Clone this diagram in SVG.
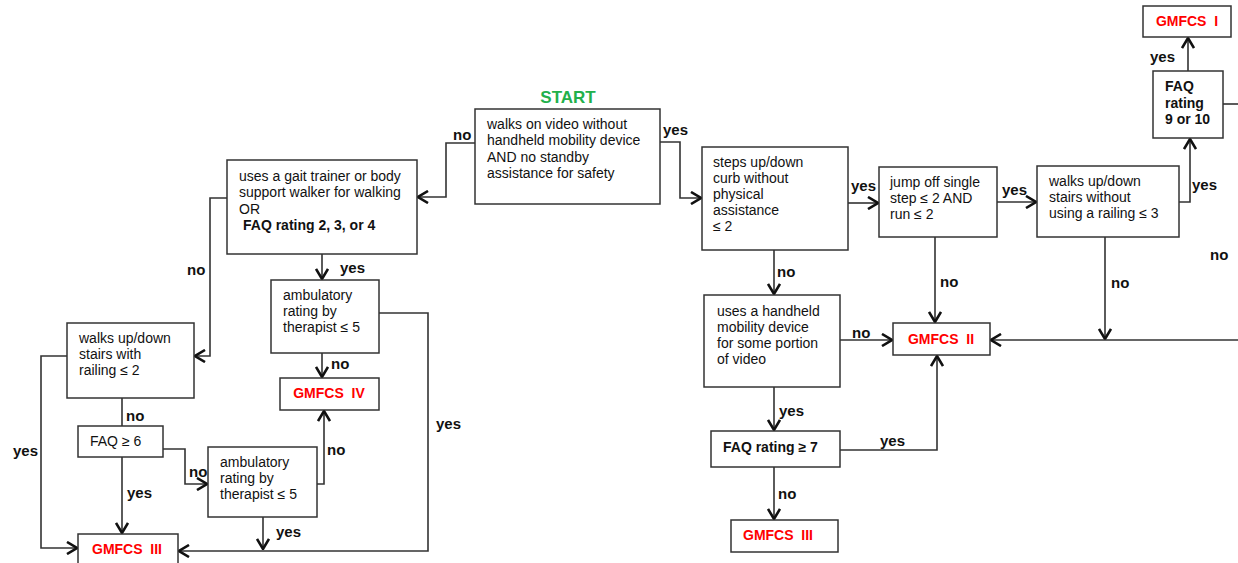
<svg xmlns="http://www.w3.org/2000/svg" width="1238" height="563" viewBox="0 0 1238 563">
<defs>
<style>
.box{fill:#fff;stroke:#333;stroke-width:1.5}
.t{font-family:"Liberation Sans",Arial,sans-serif;font-size:14px;fill:#111}
.b{font-weight:bold}
.g{font-family:"Liberation Sans",Arial,sans-serif;font-size:14px;font-weight:bold;fill:#f00;text-anchor:middle;white-space:pre}
.lbl{font-family:"Liberation Sans",Arial,sans-serif;font-size:15px;font-weight:bold;fill:#111}
.c{fill:none;stroke:#333;stroke-width:1.6}
</style>
<marker id="ah" viewBox="0 0 12 14" refX="11" refY="7" markerWidth="12" markerHeight="14" markerUnits="userSpaceOnUse" orient="auto">
<path d="M1,1 L11,7 L1,13" fill="none" stroke="#111" stroke-width="2.6"/>
</marker>
</defs>
<rect width="1238" height="563" fill="#fff"/>

<g id="connectors">
<polyline class="c" points="475,143 446,143 446,197 418,197" marker-end="url(#ah)"/>
<polyline class="c" points="660,142 680,142 680,198 701,198" marker-end="url(#ah)"/>
<polyline class="c" points="848,203 878,203" marker-end="url(#ah)"/>
<polyline class="c" points="997,202 1036,202" marker-end="url(#ah)"/>
<polyline class="c" points="1179,202 1190,202 1190,139" marker-end="url(#ah)"/>
<polyline class="c" points="1188,71 1188,38" marker-end="url(#ah)"/>
<polyline class="c" points="1223,104 1238,104"/>
<polyline class="c" points="1105,237 1105,339" marker-end="url(#ah)"/>
<polyline class="c" points="1238,340 991,340" marker-end="url(#ah)"/>
<polyline class="c" points="935,237 935,322" marker-end="url(#ah)"/>
<polyline class="c" points="774,250 774,294" marker-end="url(#ah)"/>
<polyline class="c" points="840,340 892,340" marker-end="url(#ah)"/>
<polyline class="c" points="774,387 774,430" marker-end="url(#ah)"/>
<polyline class="c" points="840,450 937,450 937,356" marker-end="url(#ah)"/>
<polyline class="c" points="774,467 774,519" marker-end="url(#ah)"/>
<polyline class="c" points="227,198 210,198 210,356 195,356" marker-end="url(#ah)"/>
<polyline class="c" points="322,254 322,279" marker-end="url(#ah)"/>
<polyline class="c" points="322,353 322,377" marker-end="url(#ah)"/>
<polyline class="c" points="379,313 428,313 428,551 179,551" marker-end="url(#ah)"/>
<polyline class="c" points="67,356 41,356 41,548 77,548" marker-end="url(#ah)"/>
<polyline class="c" points="122,398 122,426"/>
<polyline class="c" points="122,457 122,533" marker-end="url(#ah)"/>
<polyline class="c" points="163,449 185,449 185,484 207,484" marker-end="url(#ah)"/>
<polyline class="c" points="317,484 324,484 324,411" marker-end="url(#ah)"/>
<polyline class="c" points="263,517 263,549" marker-end="url(#ah)"/>
</g>

<g id="start"><text x="568" y="103" font-family="Liberation Sans, Arial, sans-serif" font-size="17" font-weight="bold" fill="#22b04b" text-anchor="middle">START</text></g>

<g id="nodeA"><rect class="box" x="475" y="109" width="185" height="95"/>
<text class="t" x="487" y="129">walks on video without</text>
<text class="t" x="487" y="145">handheld mobility device</text>
<text class="t" x="487" y="162">AND no standby</text>
<text class="t" x="487" y="178">assistance for safety</text></g>

<g id="nodeB"><rect class="box" x="227" y="160" width="190" height="94"/>
<text class="t" x="239" y="181">uses a gait trainer or body</text>
<text class="t" x="239" y="197">support walker for walking</text>
<text class="t" x="239" y="214">OR</text>
<text class="t b" x="243" y="230">FAQ rating 2, 3, or 4</text></g>

<g id="nodeC"><rect class="box" x="702" y="147" width="146" height="103"/>
<text class="t" x="713" y="167">steps up/down</text>
<text class="t" x="713" y="183">curb without</text>
<text class="t" x="713" y="199">physical</text>
<text class="t" x="713" y="215">assistance</text>
<text class="t" x="713" y="231">≤ 2</text></g>

<g id="nodeD"><rect class="box" x="879" y="167" width="118" height="70"/>
<text class="t" x="890" y="187">jump off single</text>
<text class="t" x="890" y="203">step ≤ 2 AND</text>
<text class="t" x="890" y="219">run ≤ 2</text></g>

<g id="nodeE"><rect class="box" x="1037" y="166" width="142" height="71"/>
<text class="t" x="1049" y="186">walks up/down</text>
<text class="t" x="1049" y="202">stairs without</text>
<text class="t" x="1049" y="218">using a railing ≤ 3</text></g>

<g id="nodeF"><rect class="box" x="1153" y="71" width="70" height="67"/>
<text class="t b" x="1165" y="91">FAQ</text>
<text class="t b" x="1165" y="108">rating</text>
<text class="t b" x="1165" y="124">9 or 10</text></g>

<g id="gmfcs1"><rect class="box" x="1143" y="6" width="88" height="31"/>
<text class="g" x="1187" y="26">GMFCS  I</text></g>

<g id="gmfcs2"><rect class="box" x="893" y="323" width="97" height="32"/>
<text class="g" x="941" y="344">GMFCS  II</text></g>

<g id="nodeG"><rect class="box" x="704" y="295" width="136" height="92"/>
<text class="t" x="717" y="316">uses a handheld</text>
<text class="t" x="717" y="332">mobility device</text>
<text class="t" x="717" y="348">for some portion</text>
<text class="t" x="717" y="364">of video</text></g>

<g id="nodeH"><rect class="box" x="711" y="431" width="129" height="36"/>
<text class="t b" x="723" y="452">FAQ rating ≥ 7</text></g>

<g id="gmfcs3r"><rect class="box" x="731" y="520" width="107" height="32"/>
<text class="g" x="778" y="540">GMFCS  III</text></g>

<g id="nodeL"><rect class="box" x="271" y="280" width="108" height="73"/>
<text class="t" x="283" y="300">ambulatory</text>
<text class="t" x="283" y="316">rating by</text>
<text class="t" x="283" y="332">therapist ≤ 5</text></g>

<g id="gmfcs4"><rect class="box" x="280" y="378" width="99" height="32"/>
<text class="g" x="329" y="398">GMFCS  IV</text></g>

<g id="nodeI"><rect class="box" x="67" y="323" width="127" height="75"/>
<text class="t" x="79" y="343">walks up/down</text>
<text class="t" x="79" y="359">stairs with</text>
<text class="t" x="79" y="375">railing ≤ 2</text></g>

<g id="nodeJ"><rect class="box" x="78" y="426" width="85" height="31"/>
<text class="t" x="90" y="446">FAQ ≥ 6</text></g>

<g id="nodeK"><rect class="box" x="208" y="447" width="109" height="70"/>
<text class="t" x="220" y="467">ambulatory</text>
<text class="t" x="220" y="483">rating by</text>
<text class="t" x="220" y="499">therapist ≤ 5</text></g>

<g id="gmfcs3l"><rect class="box" x="78" y="534" width="100" height="40"/>
<text class="g" x="127" y="554">GMFCS  III</text></g>

<g id="labels">
<text class="lbl" x="453" y="140">no</text>
<text class="lbl" x="663" y="135">yes</text>
<text class="lbl" x="851" y="191">yes</text>
<text class="lbl" x="1002" y="195">yes</text>
<text class="lbl" x="1192" y="190">yes</text>
<text class="lbl" x="1150" y="62">yes</text>
<text class="lbl" x="1210" y="260">no</text>
<text class="lbl" x="1111" y="288">no</text>
<text class="lbl" x="940" y="287">no</text>
<text class="lbl" x="777" y="277">no</text>
<text class="lbl" x="852" y="338">no</text>
<text class="lbl" x="779" y="416">yes</text>
<text class="lbl" x="880" y="446">yes</text>
<text class="lbl" x="778" y="499">no</text>
<text class="lbl" x="187" y="275">no</text>
<text class="lbl" x="340" y="273">yes</text>
<text class="lbl" x="331" y="369">no</text>
<text class="lbl" x="13" y="456">yes</text>
<text class="lbl" x="126" y="421">no</text>
<text class="lbl" x="127" y="498">yes</text>
<text class="lbl" x="189" y="477">no</text>
<text class="lbl" x="327" y="455">no</text>
<text class="lbl" x="276" y="537">yes</text>
<text class="lbl" x="436" y="429">yes</text>
</g>
</svg>
